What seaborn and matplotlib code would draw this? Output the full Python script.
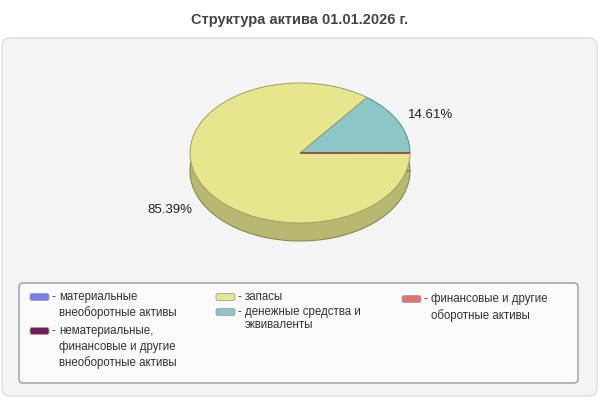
import numpy as np
import matplotlib
matplotlib.use("Agg")
import matplotlib.pyplot as plt
import seaborn as sns
from matplotlib.patches import FancyBboxPatch
from matplotlib.colors import to_rgb

# --- data ---
categories = [
    "материальные\nвнеоборотные активы",
    "нематериальные,\nфинансовые и другие\nвнеоборотные активы",
    "запасы",
    "денежные средства и\nэквиваленты",
    "финансовые и другие\nоборотные активы",
]
shares = [0.0, 0.0, 85.39, 14.61, 0.01]
colors = ["#7b7bee", "#761a58", "#e6e68f", "#8cc6c6", "#e07272"]
title = "Структура актива 01.01.2026 г."

# pie order (counter-clockwise from 3 o'clock): cash, stocks, other current
pie_order = [i for i in [3, 2, 4, 0, 1] if shares[i] > 0]

sns.set_theme(style="white")
plt.rcParams["font.family"] = ["Liberation Sans", "DejaVu Sans"]

W, H = 600, 400
fig = plt.figure(figsize=(6, 4), dpi=100)
fig.patch.set_facecolor("white")


def px(x0, y0, x1, y1):
    # pixel box (top-left origin) -> figure fraction rect
    return [x0 / W, 1 - y1 / H, (x1 - x0) / W, (y1 - y0) / H]


# grey panel and legend frame
bg = fig.add_axes([0, 0, 1, 1])
bg.set_xlim(0, W)
bg.set_ylim(H, 0)
bg.axis("off")
bg.add_patch(FancyBboxPatch((2, 38), 595, 358, boxstyle="round,pad=0,rounding_size=8",
                            fc="#f4f4f4", ec="#dddddd", lw=1))
bg.add_patch(FancyBboxPatch((19, 283), 559, 100, boxstyle="round,pad=0,rounding_size=4",
                            fc="#fafafa", ec="#999999", lw=1))
bg.text(300, 20, title, ha="center", va="center", fontsize=10.5,
        fontweight="bold", color="#444444")

# pie axes: ellipse rx=110px, ry=70px centred at (300,153)
rx, ry = 110.0, 70.0
ax0, ax1, ay0, ay1 = 150, 450, 63, 263
ax = fig.add_axes(px(ax0, ay0, ax1, ay1))
depth = 18 / ry

vals = [shares[i] for i in pie_order]
face = [colors[i] for i in pie_order]
dark = [tuple(c * 0.8 for c in to_rgb(col)) for col in face]
edge = [tuple(c * 0.7 for c in to_rgb(col)) for col in face]

# side of the 3D pie: stacked layers
for k in np.linspace(-depth, 0, 40):
    ax.pie(vals, colors=dark, startangle=0, counterclock=True, center=(0, k),
           wedgeprops=dict(linewidth=0))
ax.pie(vals, startangle=0, center=(0, -depth),
       wedgeprops=dict(linewidth=0.8, edgecolor="#8a8a50", facecolor="none"))

# top face
wedges, texts, autotexts = ax.pie(
    vals, colors=face, startangle=0, counterclock=True,
    autopct="%.2f%%", pctdistance=1.32, wedgeprops=dict(linewidth=0.7),
)
for w, e in zip(wedges, edge):
    w.set_edgecolor(e)
for t, v in zip(autotexts, vals):
    t.set_text(f"{v:.2f}%" if v > 1 else "")
    t.set_fontsize(9.5)
    t.set_color("#222222")
    x, y = t.get_position()
    if y < 0:
        t.set_position((x, y - depth * 0.9))
    else:
        t.set_position((x, y - 0.04))

ax.set_aspect("auto")
ax.set_xlim(-(300 - ax0) / rx, (ax1 - 300) / rx)
ax.set_ylim(-(ay1 - 153) / ry, (153 - ay0) / ry)
ax.axis("off")

# legend, three columns drawn by hand: (items, handle x, first line y, line pitch)
legend_cols = [([0, 1], 30, 297, 16), ([2, 3], 216, 297, 12.5), ([4], 402, 299, 17)]
for idx, hx, y, pitch in legend_cols:
    for i in idx:
        bg.add_patch(FancyBboxPatch((hx, y - 3.5), 19, 7,
                                    boxstyle="round,pad=0,rounding_size=2",
                                    fc=colors[i], ec="#a0a0a0", lw=0.6))
        bg.text(hx + 22, y, "-", ha="left", va="center", fontsize=8.3, color="#333333")
        for line in categories[i].split("\n"):
            bg.text(hx + 29, y, line, ha="left", va="center", fontsize=8.3,
                    color="#333333")
            y += pitch
        y += 2 if pitch > 13 else 2.5

fig.savefig("out.png", dpi=100)
